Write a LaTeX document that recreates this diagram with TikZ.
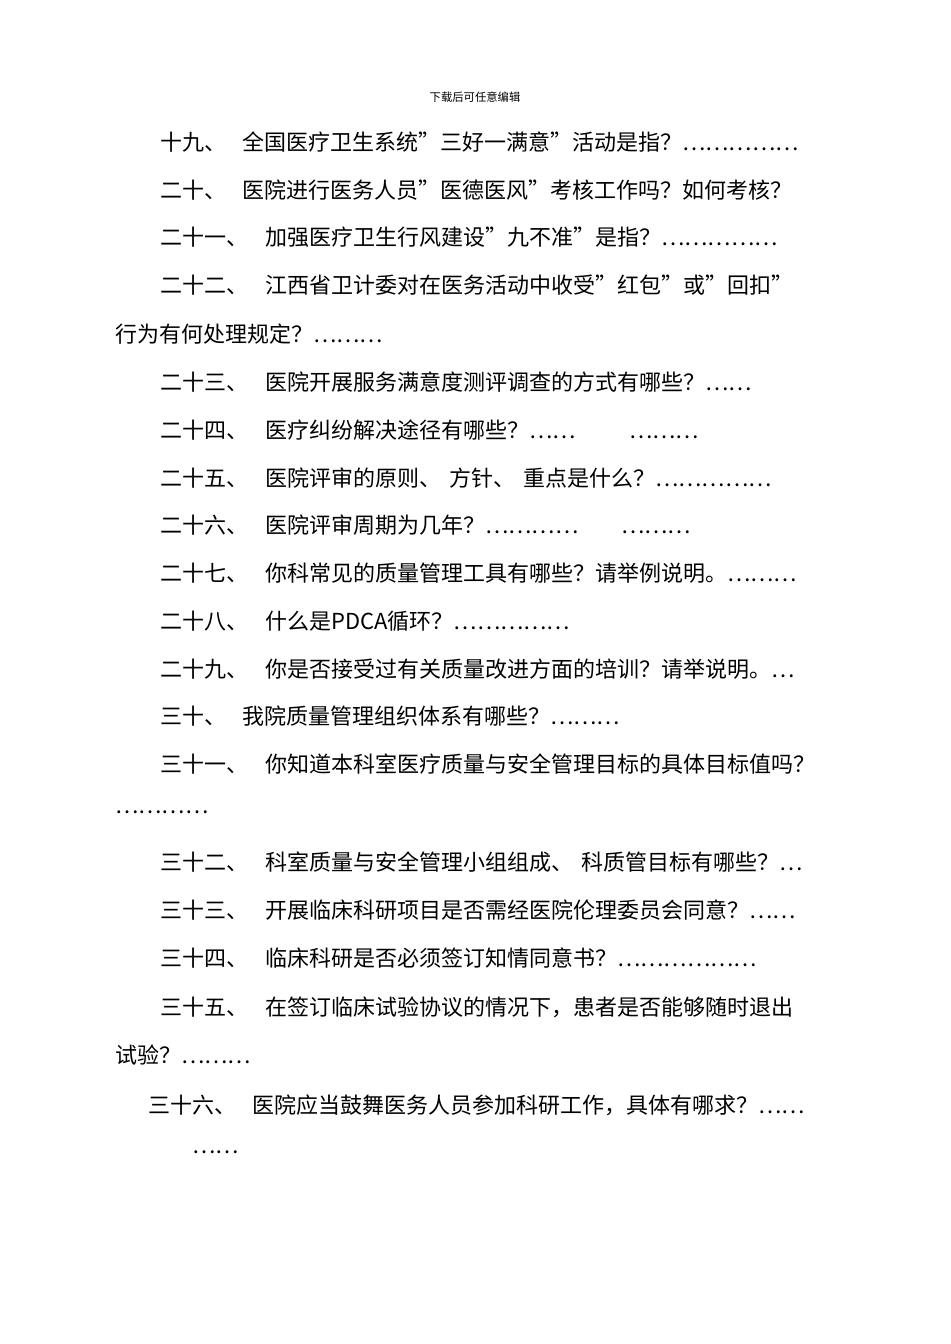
\documentclass[tikz,border=0pt]{standalone}
\usepackage{fontspec}
\newfontfamily\cjk{Noto Sans CJK SC}
\begin{document}
\begin{tikzpicture}[x=0.75pt,y=-0.75pt,
  lab/.style={anchor=west,inner sep=0pt,font=\cjk\fontsize{16.5pt}{16pt}\selectfont},
  hd/.style={anchor=center,inner sep=0pt,font=\cjk\fontsize{8.5pt}{9pt}\selectfont}]
\useasboundingbox[fill=white] (0,0) rectangle (950,1344);
\node[hd] (h) at (475,97) {下载后可任意编辑};
\node[lab] (n19) at (160,142) {十九、};
\node[lab] (t19) at (242,142) {全国医疗卫生系统”三好一满意”活动是指？……………};
\node[lab] (n20) at (160,190) {二十、};
\node[lab] (t20) at (242,190) {医院进行医务人员”医德医风”考核工作吗？如何考核？};
\node[lab] (n21) at (160,237) {二十一、};
\node[lab] (t21) at (265,237) {加强医疗卫生行风建设”九不准”是指？……………};
\node[lab] (n22) at (160,285) {二十二、};
\node[lab] (t22) at (265,285) {江西省卫计委对在医务活动中收受”红包”或”回扣”};
\node[lab] (c22) at (115,334) {行为有何处理规定？………};
\node[lab] (n23) at (160,382) {二十三、};
\node[lab] (t23) at (265,382) {医院开展服务满意度测评调查的方式有哪些？……};
\node[lab] (n24) at (160,430) {二十四、};
\node[lab] (t24) at (265,430) {医疗纠纷解决途径有哪些？……\hspace{40pt}………};
\node[lab] (n25) at (160,478) {二十五、};
\node[lab] (t25) at (265,478) {医院评审的原则、\hspace{6pt}方针、\hspace{6pt}重点是什么？……………};
\node[lab] (n26) at (160,525) {二十六、};
\node[lab] (t26) at (265,525) {医院评审周期为几年？…………\hspace{32pt}………};
\node[lab] (n27) at (160,573) {二十七、};
\node[lab] (t27) at (265,573) {你科常见的质量管理工具有哪些？请举例说明。………};
\node[lab] (n28) at (160,621) {二十八、};
\node[lab] (t28) at (265,621) {什么是PDCA循环？……………};
\node[lab] (n29) at (160,669) {二十九、};
\node[lab] (t29) at (265,669) {你是否接受过有关质量改进方面的培训？请举说明。…};
\node[lab] (n30) at (160,716) {三十、};
\node[lab] (t30) at (242,716) {我院质量管理组织体系有哪些？………};
\node[lab] (n31) at (160,764) {三十一、};
\node[lab] (t31) at (265,764) {你知道本科室医疗质量与安全管理目标的具体目标值吗？};
\node[lab] (c31) at (115,812) {…………};
\node[lab] (n32) at (160,862) {三十二、};
\node[lab] (t32) at (265,862) {科室质量与安全管理小组组成、\hspace{6pt}科质管目标有哪些？…};
\node[lab] (n33) at (160,910) {三十三、};
\node[lab] (t33) at (265,910) {开展临床科研项目是否需经医院伦理委员会同意？……};
\node[lab] (n34) at (160,958) {三十四、};
\node[lab] (t34) at (265,958) {临床科研是否必须签订知情同意书？………………};
\node[lab] (n35) at (160,1007) {三十五、};
\node[lab] (t35) at (265,1007) {在签订临床试验协议的情况下，患者是否能够随时退出};
\node[lab] (c35) at (115,1055) {试验？………};
\node[lab] (n36) at (148,1105) {三十六、};
\node[lab] (t36) at (252,1105) {医院应当鼓舞医务人员参加科研工作，具体有哪求？……};
\node[lab] (c36) at (192,1152) {……};
\end{tikzpicture}
\end{document}
